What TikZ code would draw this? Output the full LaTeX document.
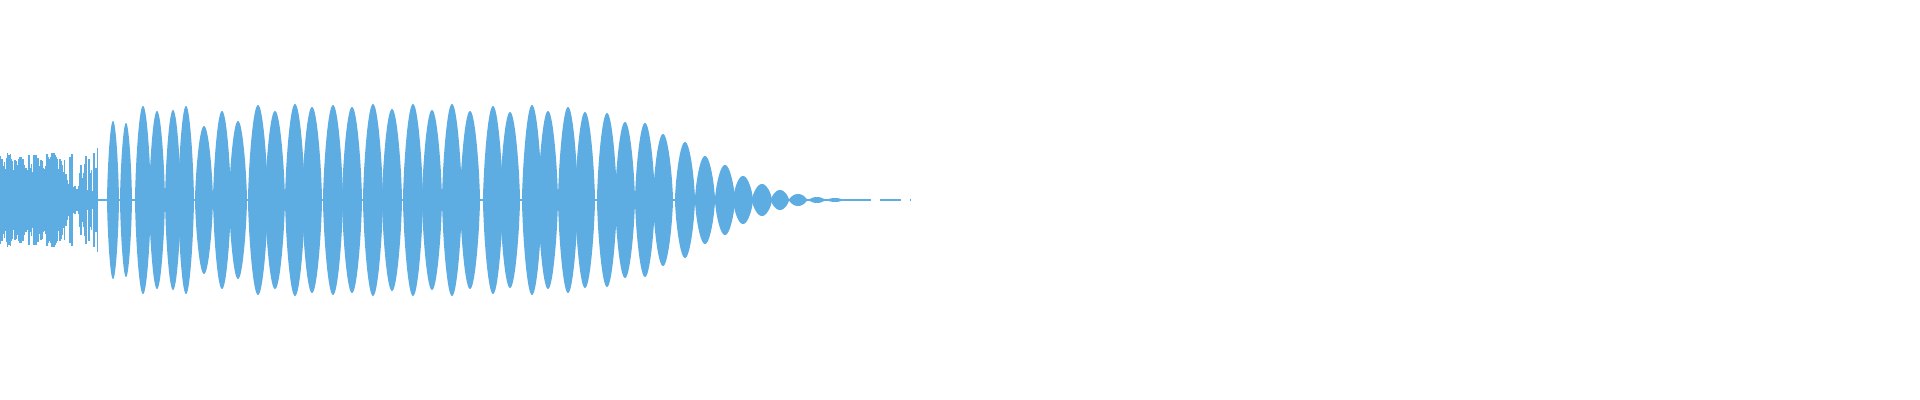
\documentclass[tikz,border=0pt]{standalone}
\usepackage{tikz}
\definecolor{wave}{RGB}{93,172,226}

\begin{document}
\begin{tikzpicture}[x=0.01cm,y=0.01cm]
    % Frame
    \useasboundingbox (0,-200) rectangle (1920,200);

    % Noisy start
    \pgfmathsetseed{7}
    \foreach \i in {0,...,130} {
        \pgfmathsetmacro{\xx}{\i*0.75}
        \pgfmathsetmacro{\aa}{(\i<85 ? 25+22*rnd : 5+55*rnd*rnd)}
        \draw[wave, line width=0.5pt] (\xx,-\aa) -- (\xx,\aa);
    }

    % Centre band
    \draw[wave, line width=0.7pt] (0,0) -- (850,0);
    \draw[wave, line width=0.6pt, dash pattern=on 6pt off 2.5pt] (850,0) -- (910,0);

    % Lobes
    \foreach \c/\w/\a in {113/6/79, 126/6/77, 143/8/94, 157/8/89, 173/8/90,
        186/8/94, 204/9/74, 222/9/89, 238/9/79, 258/10/95, 275/10/89,
        295/10/96, 312/10/93, 333/10/95, 352/10/93, 373/10/96, 392/10/91,
        413/10/96, 432/10/90, 452/10/96, 470/10/89, 493/10/94, 510/10/88,
        532/10/95, 548/10/89, 568/10/93, 585/10/88, 607/10/87, 625/10/78,
        645/10/77, 663/10/66, 685/10/58, 705/10/44, 725/10/35, 743/10/24,
        762/10/16, 780/9/10, 798/9/6, 817/8/3, 835/8/2} {
        \fill[wave] plot[domain=-0.98:0.98, samples=25] ({\c+\w*\x},{\a*abs(cos(90*\x))^0.65})
            -- plot[domain=0.98:-0.98, samples=25] ({\c+\w*\x},{-\a*abs(cos(90*\x))^0.65}) -- cycle;
    }
\end{tikzpicture}
\end{document}
